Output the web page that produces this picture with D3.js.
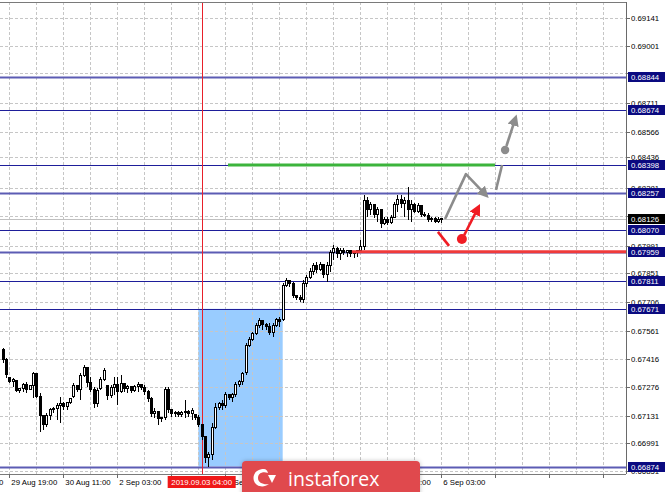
<!DOCTYPE html>
<html><head><meta charset="utf-8">
<script src="https://cdn.jsdelivr.net/npm/d3@7"></script>
<style>html,body{margin:0;padding:0;background:#fff;overflow:hidden}svg{display:block}</style>
</head><body>
<script>
// ---- data ----
const firstBar = -2; // bar index of first candle (index 0 = 29 Aug 19:00, H1 bars)
const candles = [ // [open, high, low, close]
[0.67464,0.67474,0.67398,0.67413],[0.67413,0.67423,0.67322,0.67337],[0.67322,0.67327,0.67297,0.67302],[0.67302,0.67322,0.67277,0.67312],
[0.67307,0.67312,0.67251,0.67256],[0.67256,0.67272,0.67246,0.67267],[0.67267,0.67297,0.67251,0.67287],[0.67287,0.67302,0.67246,0.67262],
[0.67262,0.67287,0.67262,0.67282],[0.67282,0.67352,0.67221,0.67342],[0.67342,0.67347,0.67221,0.67226],[0.67226,0.67246,0.67049,0.67130],
[0.67130,0.67135,0.67060,0.67085],[0.67085,0.67145,0.67075,0.67130],[0.67130,0.67170,0.67110,0.67160],[0.67160,0.67175,0.67145,0.67165],
[0.67165,0.67196,0.67110,0.67180],[0.67180,0.67226,0.67095,0.67191],[0.67191,0.67201,0.67160,0.67175],[0.67175,0.67201,0.67160,0.67196],
[0.67196,0.67221,0.67191,0.67216],[0.67226,0.67297,0.67221,0.67282],[0.67282,0.67287,0.67251,0.67262],[0.67262,0.67347,0.67211,0.67332],
[0.67332,0.67388,0.67327,0.67373],[0.67373,0.67378,0.67277,0.67297],[0.67297,0.67327,0.67251,0.67262],[0.67262,0.67277,0.67170,0.67191],
[0.67191,0.67272,0.67175,0.67256],[0.67267,0.67327,0.67262,0.67312],[0.67312,0.67373,0.67307,0.67357],[0.67282,0.67287,0.67211,0.67231],
[0.67231,0.67287,0.67221,0.67272],[0.67272,0.67327,0.67236,0.67287],[0.67287,0.67327,0.67185,0.67251],[0.67251,0.67337,0.67246,0.67292],
[0.67292,0.67297,0.67251,0.67267],[0.67267,0.67287,0.67246,0.67277],[0.67277,0.67282,0.67246,0.67256],[0.67256,0.67287,0.67251,0.67277],
[0.67277,0.67302,0.67251,0.67287],[0.67287,0.67292,0.67262,0.67272],[0.67272,0.67287,0.67236,0.67251],[0.67251,0.67262,0.67201,0.67216],
[0.67216,0.67226,0.67125,0.67140],[0.67140,0.67170,0.67120,0.67150],[0.67150,0.67155,0.67085,0.67115],[0.67115,0.67125,0.67100,0.67120],
[0.67120,0.67277,0.67110,0.67262],[0.67262,0.67277,0.67145,0.67160],[0.67160,0.67165,0.67125,0.67140],[0.67140,0.67155,0.67125,0.67145],
[0.67145,0.67155,0.67125,0.67135],[0.67135,0.67155,0.67125,0.67145],[0.67145,0.67211,0.67120,0.67150],[0.67150,0.67160,0.67125,0.67140],
[0.67140,0.67170,0.67110,0.67155],[0.67135,0.67140,0.67110,0.67120],[0.67120,0.67135,0.67075,0.67085],[0.67085,0.67090,0.67009,0.67024],
[0.67024,0.67029,0.66893,0.66918],[0.66918,0.66948,0.66874,0.66933],[0.66933,0.67095,0.66908,0.67070],[0.67070,0.67196,0.67065,0.67170],
[0.67170,0.67201,0.67160,0.67191],[0.67191,0.67211,0.67160,0.67180],[0.67180,0.67251,0.67170,0.67236],[0.67236,0.67241,0.67211,0.67221],
[0.67221,0.67246,0.67201,0.67236],[0.67236,0.67302,0.67226,0.67287],[0.67287,0.67312,0.67277,0.67302],[0.67302,0.67352,0.67287,0.67342],
[0.67347,0.67499,0.67337,0.67484],[0.67484,0.67529,0.67479,0.67514],[0.67514,0.67554,0.67509,0.67544],[0.67544,0.67600,0.67539,0.67585],
[0.67585,0.67625,0.67575,0.67610],[0.67610,0.67615,0.67565,0.67590],[0.67590,0.67600,0.67565,0.67580],[0.67580,0.67600,0.67539,0.67549],
[0.67549,0.67600,0.67529,0.67585],[0.67585,0.67625,0.67580,0.67615],[0.67615,0.67630,0.67580,0.67605],[0.67615,0.67802,0.67610,0.67787],
[0.67787,0.67827,0.67782,0.67812],[0.67812,0.67817,0.67782,0.67797],[0.67797,0.67807,0.67726,0.67736],[0.67736,0.67741,0.67716,0.67726],
[0.67726,0.67741,0.67706,0.67716],[0.67716,0.67817,0.67701,0.67797],[0.67797,0.67842,0.67782,0.67827],[0.67827,0.67878,0.67822,0.67862],
[0.67862,0.67903,0.67842,0.67888],[0.67888,0.67908,0.67852,0.67868],[0.67868,0.67908,0.67862,0.67893],[0.67893,0.67898,0.67827,0.67847],
[0.67847,0.67908,0.67807,0.67888],[0.67888,0.67969,0.67857,0.67954],[0.67954,0.67994,0.67918,0.67974],[0.67974,0.67984,0.67929,0.67949],
[0.67949,0.67979,0.67918,0.67964],[0.67964,0.67979,0.67944,0.67954],[0.67954,0.67969,0.67934,0.67964],[0.67964,0.67969,0.67934,0.67949],
[0.67949,0.67959,0.67929,0.67954],[0.67954,0.67969,0.67934,0.67964],[0.67964,0.68019,0.67954,0.67984],[0.67984,0.68246,0.67969,0.68221],
[0.68221,0.68236,0.68135,0.68171],[0.68171,0.68211,0.68145,0.68196],[0.68196,0.68201,0.68130,0.68150],[0.68150,0.68186,0.68110,0.68171],
[0.68171,0.68176,0.68080,0.68100],[0.68100,0.68135,0.68095,0.68125],[0.68125,0.68135,0.68095,0.68105],[0.68105,0.68145,0.68100,0.68135],
[0.68135,0.68211,0.68130,0.68196],[0.68196,0.68246,0.68160,0.68226],[0.68226,0.68246,0.68181,0.68201],[0.68201,0.68236,0.68135,0.68221],
[0.68221,0.68287,0.68120,0.68171],[0.68171,0.68221,0.68110,0.68196],[0.68196,0.68206,0.68155,0.68165],[0.68165,0.68206,0.68155,0.68191],
[0.68191,0.68196,0.68135,0.68150],[0.68150,0.68160,0.68135,0.68145],[0.68145,0.68155,0.68110,0.68125],[0.68125,0.68135,0.68110,0.68130],
[0.68130,0.68135,0.68105,0.68110],[0.68110,0.68135,0.68105,0.68125],[0.68125,0.68130,0.68105,0.68126]
];
// grid prices (all) and the price labels that remain visible beside the level boxes
const gridPrices = [0.69141,0.69001,0.68861,0.68711,0.68566,0.68436,0.68281,0.68141,0.67991,0.67851,0.67706,0.67561,0.67416,0.67276,0.67131,0.66991,0.66851];
const priceLabels = [0.69141,0.69001,0.68711,0.68566,0.68436,0.68281,0.67991,0.67851,0.67706,0.67561,0.67416,0.67276,0.67131,0.66991,0.66851];
const levels = [0.68844,0.68674,0.68398,0.68257,0.68070,0.67959,0.67811,0.67671,0.66874];
const softLevels = [0.68844,0.68257,0.67959,0.66874];
const currentPrice = 0.68126;
// time labels that are visible (others are hidden under the marker box / watermark)
const timeLabels = ["29 Aug 03:00","29 Aug 19:00","30 Aug 11:00","2 Sep 03:00","3 Sep 11:00","5 Sep 11:00","6 Sep 03:00"];
const timeLabelBars = [-16,0,16,32,64,112,128];
const gridBars = d3.range(0,184,8);
const markerBar = 57, markerLabel = "2019.09.03 04:00";
const zoneBars = [56, 81], zonePrices = [0.67671, 0.66874];
const greenLine = {bars:[64.8, 143.9], price:0.68398};
const redLine = {bars:[101.5, 200], price:0.67959};
const grayPath1 = [[129.1,0.68125],[135.3,0.68352],[140.4,0.68261]];
const grayPath2 = [[144.2,0.68272],[146.0,0.68398]];
const grayDot = [146.9,0.68474];
const grayArrow2 = [[147.3,0.68494],[149.6,0.68615]];
const redStroke = [[127.0,0.68060],[130.3,0.67989]];
const redDot = [134.1,0.68024];
const redArrow = [[134.8,0.68044],[138.4,0.68165]];

// ---- layout ----
const W = 665, H = 492, plotR = 626, plotT = 2, plotB = 474;
const x = d3.scaleLinear().domain([0,128]).range([9.3,441.3]);
const y = d3.scaleLinear().domain([0.66874,0.69141]).range([466.5,18]);
const FONT = "'Liberation Sans', Arial, sans-serif";

const svg = d3.select("body").append("svg").attr("width",W).attr("height",H);
const defs = svg.append("defs");
defs.append("clipPath").attr("id","plot").append("rect").attr("x",0).attr("y",plotT).attr("width",plotR).attr("height",plotB-plotT);
function marker(id,color){
  defs.append("marker").attr("id",id).attr("viewBox","0 0 10 10").attr("refX",3).attr("refY",5)
    .attr("markerWidth",4.4).attr("markerHeight",4.4).attr("orient","auto").attr("markerUnits","strokeWidth")
    .append("path").attr("d","M0,0 L10,5 L0,10 z").attr("fill",color);
}
marker("ag","#8c8c8c"); marker("ar","#f01c24");
const f = defs.append("filter").attr("id","sh").attr("x","-10%").attr("y","-30%").attr("width","120%").attr("height","160%");
f.append("feDropShadow").attr("dx",0).attr("dy",0).attr("stdDeviation",2).attr("flood-color","#000").attr("flood-opacity",0.25);

svg.append("rect").attr("width",W).attr("height",H).attr("fill","#fff");
const plot = svg.append("g").attr("clip-path","url(#plot)");

// zone
plot.append("rect").attr("x",x(zoneBars[0])).attr("y",y(zonePrices[0]))
  .attr("width",x(zoneBars[1])-x(zoneBars[0])).attr("height",y(zonePrices[1])-y(zonePrices[0])).attr("fill","#99ccff");

// grid
plot.selectAll(".hg").data(gridPrices).join("line").attr("x1",0).attr("x2",plotR)
  .attr("y1",d=>Math.round(y(d))+0.5).attr("y2",d=>Math.round(y(d))+0.5)
  .attr("stroke","#c6c6c6").attr("stroke-dasharray","3,2");
plot.selectAll(".vg").data(gridBars).join("line").attr("y1",plotT).attr("y2",plotB)
  .attr("x1",d=>Math.round(x(d))+0.5).attr("x2",d=>Math.round(x(d))+0.5)
  .attr("stroke","#c6c6c6").attr("stroke-dasharray","3,2");

// current price line
plot.append("line").attr("x1",0).attr("x2",plotR).attr("y1",Math.round(y(currentPrice))+0.5).attr("y2",Math.round(y(currentPrice))+0.5).attr("stroke","#c0c0c0");

// levels
plot.selectAll(".lv").data(levels).join("line").attr("x1",0).attr("x2",plotR)
  .attr("y1",d=>Math.round(y(d))+0.5).attr("y2",d=>Math.round(y(d))+0.5)
  .attr("stroke",d=>softLevels.includes(d)?"#5c5cb4":"#1e1e9a")
  .attr("stroke-width",d=>softLevels.includes(d)?1.8:1);

// marker vertical
plot.append("line").attr("x1",Math.round(x(markerBar))+0.5).attr("x2",Math.round(x(markerBar))+0.5)
  .attr("y1",plotT).attr("y2",plotB).attr("stroke","#e8202a");

// candles
const cg = plot.append("g").attr("shape-rendering","crispEdges");
candles.forEach((c,i)=>{
  const b = firstBar+i, cx = Math.round(x(b));
  const [o,h,l,cl] = c;
  cg.append("line").attr("x1",cx+0.5).attr("x2",cx+0.5).attr("y1",y(h)).attr("y2",y(l)).attr("stroke","#000");
  const top = Math.min(y(o),y(cl)), ht = Math.max(1,Math.abs(y(o)-y(cl)));
  cg.append("rect").attr("x",cx-0.5).attr("y",top).attr("width",2).attr("height",ht)
    .attr("fill",cl>=o?"#fff":"#000").attr("stroke","#000").attr("stroke-width",1);
});

// green & red horizontal lines
plot.append("line").attr("x1",x(greenLine.bars[0])).attr("x2",x(greenLine.bars[1]))
  .attr("y1",y(greenLine.price)).attr("y2",y(greenLine.price)).attr("stroke","#3cb43c").attr("stroke-width",3);
plot.append("line").attr("x1",x(redLine.bars[0])).attr("x2",x(redLine.bars[1]))
  .attr("y1",y(redLine.price)).attr("y2",y(redLine.price)).attr("stroke","#f03a3a").attr("stroke-width",3);

// annotations
const ln = d3.line().x(d=>x(d[0])).y(d=>y(d[1]));
plot.append("path").attr("d",ln(grayPath1)).attr("fill","none").attr("stroke","#8c8c8c").attr("stroke-width",2.6).attr("marker-end","url(#ag)").attr("stroke-linejoin","round");
plot.append("path").attr("d",ln(grayPath2)).attr("fill","none").attr("stroke","#8c8c8c").attr("stroke-width",2.6);
plot.append("circle").attr("cx",x(grayDot[0])).attr("cy",y(grayDot[1])).attr("r",4.2).attr("fill","#8c8c8c");
plot.append("path").attr("d",ln(grayArrow2)).attr("fill","none").attr("stroke","#8c8c8c").attr("stroke-width",2.6).attr("marker-end","url(#ag)");
plot.append("path").attr("d",ln(redStroke)).attr("fill","none").attr("stroke","#f01c24").attr("stroke-width",2.6);
plot.append("circle").attr("cx",x(redDot[0])).attr("cy",y(redDot[1])).attr("r",5).attr("fill","#f01c24");
plot.append("path").attr("d",ln(redArrow)).attr("fill","none").attr("stroke","#f01c24").attr("stroke-width",2.6).attr("marker-end","url(#ar)");

// borders
svg.append("line").attr("x1",0).attr("x2",plotR).attr("y1",plotT+0.5).attr("y2",plotT+0.5).attr("stroke","#7a7a7a");
svg.append("line").attr("x1",0).attr("x2",plotR).attr("y1",plotB+0.5).attr("y2",plotB+0.5).attr("stroke","#7a7a7a");
svg.append("line").attr("x1",plotR+0.5).attr("x2",plotR+0.5).attr("y1",plotT).attr("y2",plotB).attr("stroke","#6a6a6a");

// y axis labels
const fmt = d3.format(".5f");
svg.selectAll(".yl").data(priceLabels).join("text").attr("x",631).attr("y",d=>y(d)+3)
  .attr("font-family",FONT).attr("font-size",7.8).attr("fill","#000").text(fmt);
svg.selectAll(".yt").data(gridPrices).join("line").attr("x1",plotR+1).attr("x2",plotR+4)
  .attr("y1",d=>Math.round(y(d))+0.5).attr("y2",d=>Math.round(y(d))+0.5).attr("stroke","#6a6a6a");
const lb = svg.selectAll(".lb").data(levels).join("g").attr("transform",d=>`translate(628,${Math.round(y(d))-5})`);
lb.append("rect").attr("width",37).attr("height",10).attr("fill","#0a0a80");
lb.append("text").attr("x",3).attr("y",8).attr("font-family",FONT).attr("font-size",7.8).attr("fill","#fff").text(fmt);
const cb = svg.append("g").attr("transform",`translate(628,${Math.round(y(currentPrice))-5})`);
cb.append("rect").attr("width",37).attr("height",10).attr("fill","#000");
cb.append("text").attr("x",3).attr("y",8).attr("font-family",FONT).attr("font-size",7.8).attr("fill","#fff").text(fmt(currentPrice));

// x axis labels
svg.selectAll(".xt").data(gridBars.filter(d=>d%16===0)).join("line").attr("x1",d=>Math.round(x(d))+0.5).attr("x2",d=>Math.round(x(d))+0.5)
  .attr("y1",plotB).attr("y2",plotB+4).attr("stroke","#6a6a6a");
svg.selectAll(".xl").data(timeLabels).join("text").attr("x",(d,i)=>x(timeLabelBars[i])+2).attr("y",485)
  .attr("font-family",FONT).attr("font-size",7.8).attr("fill","#000").text(d=>d);
const mg = svg.append("g").attr("transform",`translate(${x(markerBar)},0)`);
mg.append("rect").attr("x",-34).attr("y",476).attr("width",68).attr("height",12).attr("fill","#f01818");
mg.append("text").attr("x",0).attr("y",485).attr("text-anchor","middle").attr("font-family",FONT).attr("font-size",7.8).attr("fill","#fff").text(markerLabel);

// watermark banner
const bn = svg.append("g").attr("transform","translate(242,461)");
bn.append("rect").attr("width",178).attr("height",36).attr("rx",4).attr("fill","#e0484e").attr("filter","url(#sh)");
bn.append("path").attr("d","M22,8 C14,8 10,14 12,20 C14,26 22,27 27,23 C22,24 16,22 16,17 C16,12 21,10 26,12 C25,9 24,8 22,8 Z M26,14 L34,14 L30,22 Z")
  .attr("fill","#fff");
bn.append("text").attr("x",46).attr("y",25).attr("font-family","'Open Sans', Lato, sans-serif").attr("font-size",19.5).attr("fill","#fff").text("instaforex");
</script>
</body></html>
